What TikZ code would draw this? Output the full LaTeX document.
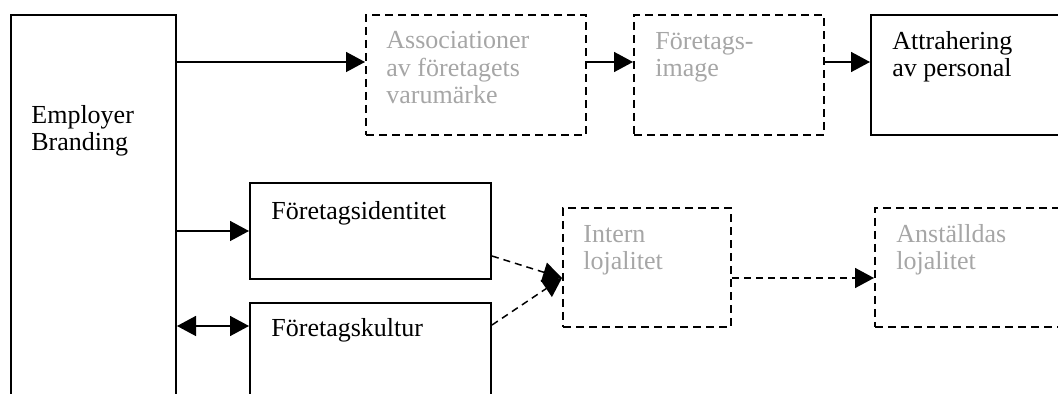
\documentclass[tikz,border=0pt]{standalone}
\usepackage{fontspec}
\setmainfont{Liberation Serif}
\usetikzlibrary{arrows.meta,fit}
\definecolor{fadedtext}{HTML}{A6A6A6}
\tikzset{
  solidbox/.style={draw, line width=1pt, inner sep=0pt},
  dashbox/.style={draw, line width=1pt, dash pattern=on 4pt off 2.5pt, inner sep=0pt},
  % anchor: baseline of the last line
  lbl/.style={font=\fontsize{13pt}{13.8pt}\selectfont, align=left, anchor=base west, inner sep=0pt},
  faded/.style={text=fadedtext},
  link/.style={line width=0.75pt, -{Triangle[length=9.5pt,width=10pt]}},
  linkboth/.style={line width=0.75pt, {Triangle[length=9.5pt,width=10pt]}-{Triangle[length=9.5pt,width=10pt]}},
  dlink/.style={link, dash pattern=on 3.5pt off 2.5pt},
}
\begin{document}
\begin{tikzpicture}[x=0.5pt,y=-0.5pt]
\useasboundingbox (0,0) rectangle (1058,394);
\clip (0,0) rectangle (1058,394);

% boxes
\node[solidbox, fit={(11,15) (176,430)}] (emp) {};
\node[dashbox, fit={(366,15) (586,135)}] (assoc) {};
\node[dashbox, fit={(634,15) (824,135)}] (image) {};
\node[solidbox, fit={(871,15) (1090,135)}] (attr) {};
\node[solidbox, fit={(250,183) (491,279)}] (ident) {};
\node[solidbox, fit={(250,303) (491,430)}] (kultur) {};
\node[dashbox, fit={(563,208) (731,327)}] (intern) {};
\node[dashbox, fit={(875,208) (1090,327)}] (anst) {};

% labels
\node[lbl] (emp-t) at (31,151) {Employer\\Branding};
\node[lbl, faded] (assoc-t) at (386,104) {Associationer\\av företagets\\varumärke};
\node[lbl, faded] (image-t) at (655,77) {Företags-\\image};
\node[lbl] (attr-t) at (892,77) {Attrahering\\av personal};
\node[lbl] (ident-t) at (271,220) {Företagsidentitet};
\node[lbl] (kultur-t) at (271,337) {Företagskultur};
\node[lbl, faded] (intern-t) at (583,270) {Intern\\lojalitet};
\node[lbl, faded] (anst-t) at (896,270) {Anställdas\\lojalitet};

% connectors
\draw[link] ([yshift=6.5pt]assoc.west -| emp.east) -- ([yshift=6.5pt]assoc.west);
\draw[link] ([yshift=6.5pt]assoc.east) -- ([yshift=6.5pt]image.west);
\draw[link] ([yshift=6.5pt]image.east) -- ([yshift=6.5pt]attr.west);
\draw[link] (ident.west -| emp.east) -- (ident.west);
\coordinate (kin) at ([yshift=-12pt]kultur.north west);
\draw[linkboth] (kin -| emp.east) -- (kin);
\coordinate (iin) at ([yshift=-35.5pt]intern.north west);
\draw[dlink] ([yshift=12pt]ident.south east) -- (iin);
\draw[dlink] ([yshift=-11.5pt]kultur.north east) -- (iin);
\draw[dlink] (iin -| intern.east) -- (iin -| anst.west);
\end{tikzpicture}
\end{document}
